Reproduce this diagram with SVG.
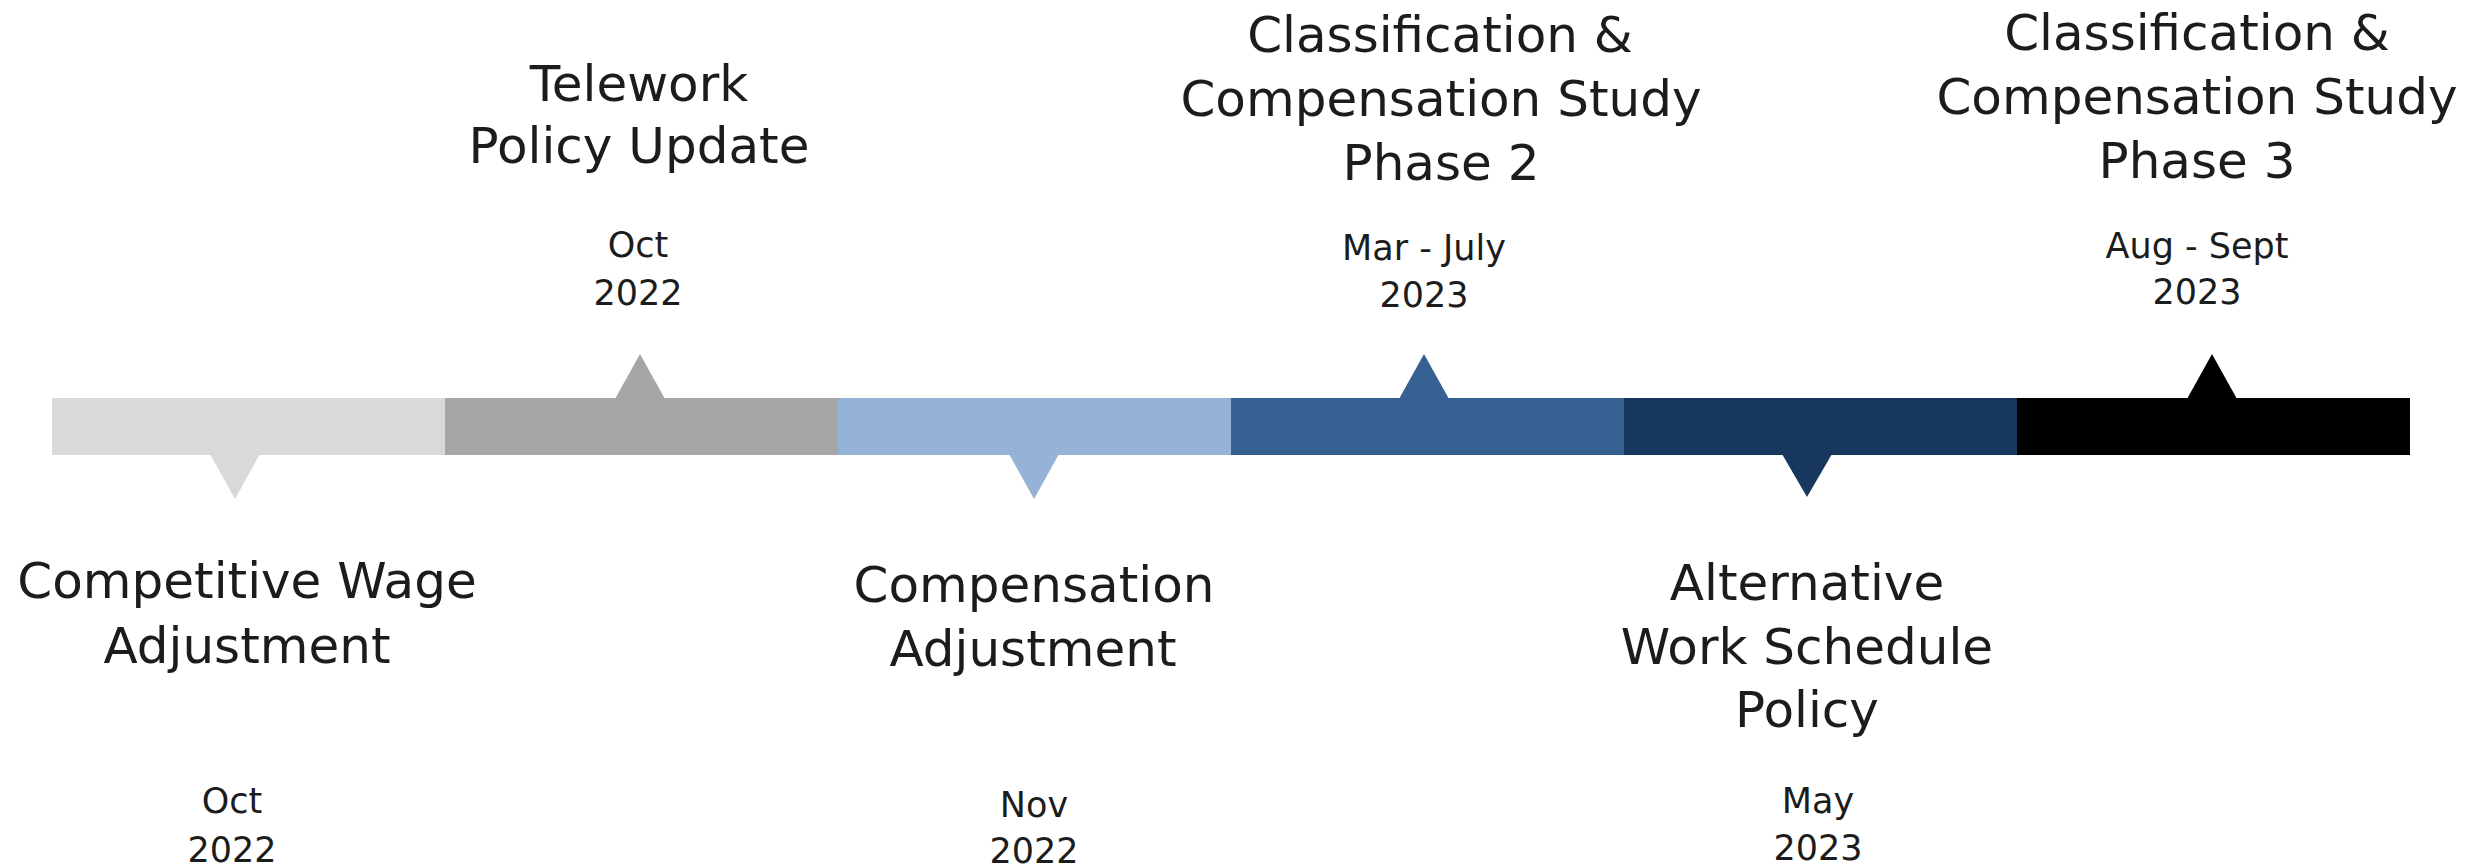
<svg xmlns="http://www.w3.org/2000/svg" width="2486" height="867" viewBox="0 0 2486 867">
<style>
.t{font-family:"DejaVu Sans","Liberation Sans",sans-serif;font-size:50px;fill:#1c1c1c;text-anchor:middle}
.d{font-family:"DejaVu Sans","Liberation Sans",sans-serif;font-size:35px;fill:#1c1c1c;text-anchor:middle}
</style>
<rect width="2486" height="867" fill="#ffffff"/>
<g id="connectors">
<rect x="52" y="398" width="394" height="57" fill="#D9D9D9"/>
<rect x="445" y="398" width="394" height="57" fill="#A6A6A6"/>
<rect x="838" y="398" width="394" height="57" fill="#95B3D7"/>
<rect x="1231" y="398" width="394" height="57" fill="#366092"/>
<rect x="1624" y="398" width="394" height="57" fill="#17375E"/>
<rect x="2017" y="398" width="393" height="57" fill="#000000"/>
</g>
<g id="n1">
<polygon points="210,454 260,454 235,499" fill="#D9D9D9"/>
<text class="t" x="247" y="598">Competitive Wage</text>
<text class="t" x="247" y="663">Adjustment</text>
<text class="d" x="232" y="813">Oct</text>
<text class="d" x="232" y="862">2022</text>
</g>
<g id="n2">
<polygon points="615,399 665,399 640,354" fill="#A6A6A6"/>
<text class="t" x="639" y="101">Telework</text>
<text class="t" x="639" y="163">Policy Update</text>
<text class="d" x="638" y="257">Oct</text>
<text class="d" x="638" y="305">2022</text>
</g>
<g id="n3">
<polygon points="1009,454 1059,454 1034,499" fill="#95B3D7"/>
<text class="t" x="1034" y="602">Compensation</text>
<text class="t" x="1033" y="666">Adjustment</text>
<text class="d" x="1034" y="817">Nov</text>
<text class="d" x="1034" y="863">2022</text>
</g>
<g id="n4">
<polygon points="1399,399 1449,399 1424,354" fill="#366092"/>
<text class="t" x="1440" y="52">Classification &amp;</text>
<text class="t" x="1441" y="116">Compensation Study</text>
<text class="t" x="1441" y="180">Phase 2</text>
<text class="d" x="1424" y="260">Mar - July</text>
<text class="d" x="1424" y="307">2023</text>
</g>
<g id="n5">
<polygon points="1782,454 1832,454 1807,497" fill="#17375E"/>
<text class="t" x="1807" y="600">Alternative</text>
<text class="t" x="1807" y="664">Work Schedule</text>
<text class="t" x="1807" y="727">Policy</text>
<text class="d" x="1818" y="813">May</text>
<text class="d" x="1818" y="860">2023</text>
</g>
<g id="n6">
<polygon points="2187,399 2237,399 2212,354" fill="#000000"/>
<text class="t" x="2197" y="50">Classification &amp;</text>
<text class="t" x="2197" y="114">Compensation Study</text>
<text class="t" x="2197" y="178">Phase 3</text>
<text class="d" x="2197" y="258">Aug - Sept</text>
<text class="d" x="2197" y="304">2023</text>
</g>
</svg>
